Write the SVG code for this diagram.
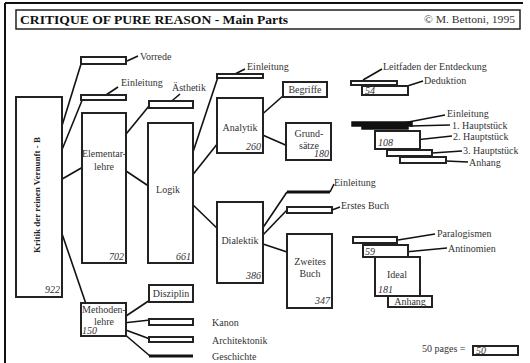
<svg xmlns="http://www.w3.org/2000/svg" width="530" height="363" viewBox="0 0 530 363">
<style>
.b{fill:#fff;stroke:#222;stroke-width:2}
.k{fill:#111;stroke:#111;stroke-width:1.5}
.l{stroke:#111;stroke-width:1.6;fill:none}
.tk{stroke:#111;stroke-width:3;fill:none}
text{font-family:"Liberation Serif","Times New Roman",serif;font-size:10px;fill:#333}
.c{text-anchor:middle}
.n{font-style:italic;text-anchor:end}
.ni{font-style:italic}
</style>
<rect width="530" height="363" fill="#fff"/>
<g id="frame">
<line x1="5" y1="3" x2="523" y2="3" stroke="#111" stroke-width="2"/>
<line x1="5" y1="3" x2="5" y2="363" stroke="#111" stroke-width="2"/>
</g>
<g id="title">
<rect x="16" y="10" width="504" height="19" fill="#fff" stroke="#222" stroke-width="1.5"/>
<text x="20" y="24" style="font-size:13px;font-weight:bold;fill:#111" textLength="268" lengthAdjust="spacingAndGlyphs">CRITIQUE OF PURE REASON - Main Parts</text>
<text x="424" y="23" style="font-size:10px" textLength="91" lengthAdjust="spacingAndGlyphs">© M.  Bettoni, 1995</text>
</g>
<g id="connectors">
<polyline class="l" points="127,61 138,56"/>
<polyline class="l" points="103,97 118,87"/>
<polyline class="l" points="167,105 180,94"/>
<polyline class="l" points="233,75 245,69"/>
<polyline class="l" points="81,64 57,142"/>
<polyline class="l" points="83,98 57,162"/>
<polyline class="l" points="57,182 83,167"/>
<polyline class="l" points="58,222 86,304"/>
<polyline class="l" points="122,139 149,106"/>
<polyline class="l" points="123,169 150,187"/>
<polyline class="l" points="218,77 187,170"/>
<polyline class="l" points="187,182 222,138"/>
<polyline class="l" points="190,202 222,233"/>
<polyline class="l" points="258,118 284,95"/>
<polyline class="l" points="258,133 290,147"/>
<polyline class="l" points="287,192 258,235"/>
<polyline class="l" points="287,210 260,238"/>
<polyline class="l" points="260,243 290,253"/>
<polyline class="l" points="330,192 334,184"/>
<polyline class="l" points="332,210 340,207"/>
<polyline class="l" points="123,318 150,300"/>
<polyline class="l" points="123,323 150,320"/>
<polyline class="l" points="123,329 150,339"/>
<polyline class="l" points="123,333 150,356"/>
<polyline class="l" points="363,80 382,69"/>
<polyline class="l" points="398,89 423,81"/>
<polyline class="l" points="398,124 445,115"/>
<polyline class="l" points="410,126 450,125"/>
<polyline class="l" points="415,140 452,136"/>
<polyline class="l" points="432,153 462,151"/>
<polyline class="l" points="446,161 468,162"/>
<polyline class="l" points="398,240 435,234"/>
<polyline class="l" points="405,252 447,248"/>
</g>
<g id="kritik">
<rect class="b" x="16" y="97" width="46" height="200"/>
<text transform="translate(40,195) rotate(-90)" class="c" style="font-weight:bold;font-size:9px;fill:#222">Kritik der reinen Vernunft - B</text>
<text x="60" y="293" class="n">922</text>
</g>
<g id="vorrede">
<rect class="b" x="81" y="57" width="45" height="7"/>
<text x="140" y="60">Vorrede</text>
</g>
<g id="einleitung-e">
<rect class="b" x="81" y="95" width="45" height="5"/>
<text x="121" y="86">Einleitung</text>
</g>
<g id="elementarlehre">
<rect class="b" x="82" y="113" width="44" height="150"/>
<text x="104" y="157" class="c">Elementar-</text>
<text x="104" y="170" class="c">lehre</text>
<text x="124" y="260" class="n">702</text>
</g>
<g id="aesthetik">
<rect class="b" x="149" y="101" width="44" height="7"/>
<text x="172" y="91">Ästhetik</text>
</g>
<g id="logik">
<rect class="b" x="148" y="123" width="45" height="140"/>
<text x="168" y="193" class="c">Logik</text>
<text x="191" y="260" class="n">661</text>
</g>
<g id="einleitung-l">
<rect class="b" x="217" y="74" width="46" height="4"/>
<text x="247" y="70">Einleitung</text>
</g>
<g id="analytik">
<rect class="b" x="217" y="98" width="46" height="55"/>
<text x="240" y="131" class="c">Analytik</text>
<text x="261" y="150" class="n">260</text>
</g>
<g id="begriffe">
<rect class="b" x="283" y="82" width="44" height="15"/>
<text x="305" y="93" class="c">Begriffe</text>
</g>
<g id="grundsaetze">
<rect class="b" x="286" y="123" width="45" height="37"/>
<text x="309" y="137" class="c">Grund-</text>
<text x="309" y="149" class="c">sätze</text>
<text x="329" y="157" class="n">180</text>
</g>
<g id="dialektik">
<rect class="b" x="217" y="202" width="46" height="81"/>
<text x="240" y="244" class="c">Dialektik</text>
<text x="261" y="279" class="n">386</text>
</g>
<g id="einleitung-d">
<line class="tk" x1="287" y1="192" x2="330" y2="192"/>
<text x="334" y="186">Einleitung</text>
</g>
<g id="erstes-buch">
<rect class="b" x="287" y="207" width="45" height="6"/>
<text x="341" y="209">Erstes Buch</text>
</g>
<g id="zweites-buch">
<rect class="b" x="287" y="234" width="45" height="74"/>
<text x="310" y="265" class="c">Zweites</text>
<text x="310" y="277" class="c">Buch</text>
<text x="330" y="304" class="n">347</text>
</g>
<g id="methodenlehre">
<rect class="b" x="81" y="303" width="45" height="33"/>
<text x="104" y="313" class="c">Methoden-</text>
<text x="104" y="325" class="c">lehre</text>
<text x="82" y="334" class="ni">150</text>
</g>
<g id="disziplin">
<rect class="b" x="149" y="285" width="44" height="17"/>
<text x="171" y="297" class="c">Disziplin</text>
</g>
<g id="kanon">
<rect class="b" x="149" y="319" width="44" height="6"/>
<text x="212" y="326">Kanon</text>
</g>
<g id="architektonik">
<rect class="b" x="149" y="337" width="44" height="5"/>
<text x="212" y="344">Architektonik</text>
</g>
<g id="geschichte">
<line class="tk" x1="149" y1="356" x2="193" y2="356"/>
<text x="212" y="360">Geschichte</text>
</g>
<g id="leitfaden">
<rect class="b" x="351" y="81" width="46" height="4"/>
<text x="383" y="70">Leitfaden der Entdeckung</text>
</g>
<g id="deduktion">
<rect class="b" x="362" y="86" width="46" height="9"/>
<text x="365" y="94" class="ni">54</text>
<text x="424" y="84">Deduktion</text>
</g>
<g id="einleitung-a">
<rect class="k" x="352" y="122" width="60" height="4"/>
<text x="447" y="117">Einleitung</text>
</g>
<g id="hauptstueck1">
<rect class="k" x="362" y="126" width="46" height="3"/>
<text x="452" y="129">1. Hauptstück</text>
</g>
<g id="hauptstueck2">
<rect class="b" x="375" y="131" width="45" height="18"/>
<text x="378" y="146" class="ni">108</text>
<text x="453" y="140">2. Hauptstück</text>
</g>
<g id="hauptstueck3">
<rect class="b" x="387" y="150" width="45" height="6"/>
<text x="463" y="154">3. Hauptstück</text>
</g>
<g id="anhang-a">
<rect class="b" x="400" y="157" width="46" height="6"/>
<text x="469" y="166">Anhang</text>
</g>
<g id="paralogismen">
<rect class="b" x="353" y="237" width="44" height="6"/>
<text x="437" y="237">Paralogismen</text>
</g>
<g id="antinomien">
<rect class="b" x="363" y="245" width="45" height="12"/>
<text x="365" y="255" class="ni">59</text>
<text x="448" y="252">Antinomien</text>
</g>
<g id="ideal">
<rect class="b" x="375" y="257" width="45" height="39"/>
<text x="397" y="278" class="c">Ideal</text>
<text x="378" y="293" class="ni">181</text>
</g>
<g id="anhang-d">
<rect class="b" x="388" y="296" width="44" height="11"/>
<text x="410" y="305" class="c">Anhang</text>
</g>
<g id="legend">
<text x="422" y="352">50 pages =</text>
<rect class="b" x="473" y="346" width="45" height="9"/>
<text x="476" y="354" class="ni">50</text>
</g>
</svg>
